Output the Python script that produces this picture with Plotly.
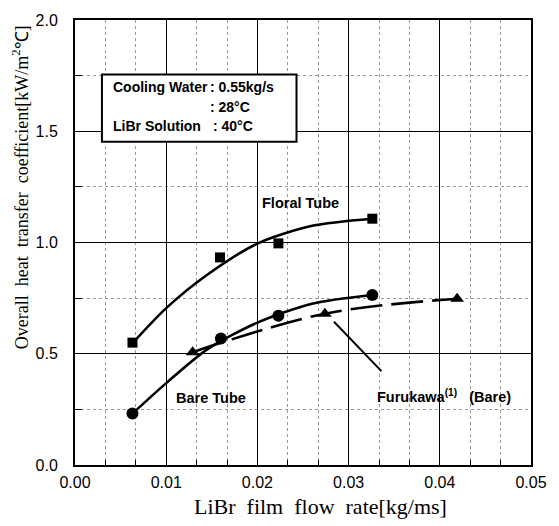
import plotly.graph_objects as go

# measured points
floral_x = [0.0063, 0.0159, 0.0223, 0.0326]
floral_y = [0.55, 0.933, 0.996, 1.107]
bare_x = [0.0063, 0.0160, 0.0223, 0.0326]
bare_y = [0.231, 0.569, 0.671, 0.764]
furu_x = [0.0129, 0.0274, 0.0419]
furu_y = [0.507, 0.680, 0.747]

# fitted curves
floral_fit_x = [0.0063, 0.010, 0.0145, 0.020, 0.026, 0.0326]
floral_fit_y = [0.547, 0.705, 0.855, 0.995, 1.075, 1.107]
bare_fit_x = [0.0063, 0.010, 0.0145, 0.020, 0.026, 0.0326]
bare_fit_y = [0.231, 0.368, 0.520, 0.640, 0.725, 0.764]

# pointer line for Furukawa label
ptr_x = [0.0284, 0.0336]
ptr_y = [0.644, 0.422]

x_ticks = [0.00, 0.01, 0.02, 0.03, 0.04, 0.05]
y_ticks = [0.0, 0.5, 1.0, 1.5, 2.0]

fig = go.Figure()
lw = 2.6
fig.add_trace(go.Scatter(x=floral_fit_x, y=floral_fit_y, mode="lines",
                         line=dict(color="black", width=lw, shape="spline", smoothing=0.8)))
fig.add_trace(go.Scatter(x=bare_fit_x, y=bare_fit_y, mode="lines",
                         line=dict(color="black", width=lw, shape="spline", smoothing=0.8)))
fig.add_trace(go.Scatter(x=furu_x, y=furu_y, mode="lines",
                         line=dict(color="black", width=lw, shape="spline", dash="32px,9px")))
fig.add_trace(go.Scatter(x=ptr_x, y=ptr_y, mode="lines",
                         line=dict(color="black", width=2)))
fig.add_trace(go.Scatter(x=floral_x, y=floral_y, mode="markers",
                         marker=dict(symbol="square", size=10, color="black")))
fig.add_trace(go.Scatter(x=bare_x, y=bare_y, mode="markers",
                         marker=dict(symbol="circle", size=12, color="black")))
fig.add_trace(go.Scatter(x=furu_x, y=furu_y, mode="markers",
                         marker=dict(symbol="triangle-up", size=12, color="black")))

def px2x(p):
    return (p - 75) / 9140.0

def px2y(p):
    return (465 - p) / 225.0

# info box
fig.add_shape(type="rect", xref="x", yref="y", x0=px2x(102), x1=px2x(297),
              y0=px2y(138), y1=px2y(70), line=dict(color="black", width=2),
              fillcolor="white", layer="above")

bf = dict(family="Liberation Sans, Arial", size=14, color="black")
lf = dict(family="Liberation Sans, Arial", size=14.5, color="black")
def txt(x, y, s, anchor="left", font=bf):
    fig.add_annotation(x=x, y=y, xref="x", yref="y", text=s, showarrow=False,
                       xanchor=anchor, yanchor="middle", font=font)

txt(px2x(111), px2y(83), "<b>Cooling Water</b>")
txt(px2x(208), px2y(83), "<b>: 0.55kg/s</b>")
txt(px2x(208), px2y(103), "<b>: 28°C</b>")
txt(px2x(111), px2y(122), "<b>LiBr Solution</b>")
txt(px2x(211), px2y(122), "<b>: 40°C</b>")

txt(px2x(301), px2y(200), "<b>Floral Tube</b>", anchor="center", font=lf)
txt(px2x(211), px2y(397), "<b>Bare Tube</b>", anchor="center", font=lf)
txt(px2x(376), px2y(395), "<b>Furukawa<sup>(1)</sup>   (Bare)</b>", anchor="left", font=lf)

fig.add_annotation(xref="paper", yref="paper", x=(20 - 75) / 457, y=(465 - 184) / 450,
                   text="Overall  heat  transfer  coefficient[kW/m<sup>2</sup>℃]",
                   textangle=-90, showarrow=False, xanchor="center", yanchor="middle",
                   font=dict(family="Liberation Serif, Times New Roman", size=18, color="black"))
fig.add_annotation(xref="paper", yref="paper", x=(321 - 75) / 457, y=(465 - 507) / 450,
                   text="LiBr  film  flow  rate[kg/ms]",
                   showarrow=False, xanchor="center", yanchor="middle",
                   font=dict(family="Liberation Serif, Times New Roman", size=22, color="black"))

axis_common = dict(showline=True, linecolor="black", linewidth=2, mirror=True,
                   showgrid=True, gridcolor="black", gridwidth=1,
                   ticks="inside", ticklen=0, zeroline=False,
                   tickfont=dict(family="Liberation Sans, Arial", size=16, color="black"))

fig.update_xaxes(range=[0, 0.05], tickvals=x_ticks, tickformat=".2f",
                 minor=dict(dtick=0.01 / 3, tick0=0, ticks="inside", ticklen=5, tickcolor="black",
                            showgrid=True, gridcolor="#999", griddash="dot", gridwidth=1),
                 ticklabelstandoff=2,
                 **axis_common)
fig.update_yaxes(range=[0, 2.0], tickvals=y_ticks, tickformat=".1f",
                 minor=dict(dtick=0.25, tick0=0, ticks="inside", ticklen=7, tickcolor="black",
                            showgrid=True, gridcolor="#999", griddash="dot", gridwidth=1),
                 ticklabelstandoff=12,
                 **axis_common)

fig.update_layout(width=559, height=526, showlegend=False,
                  margin=dict(l=75, r=27, t=15, b=61),
                  plot_bgcolor="white", paper_bgcolor="white")

fig.write_html("out.html")
